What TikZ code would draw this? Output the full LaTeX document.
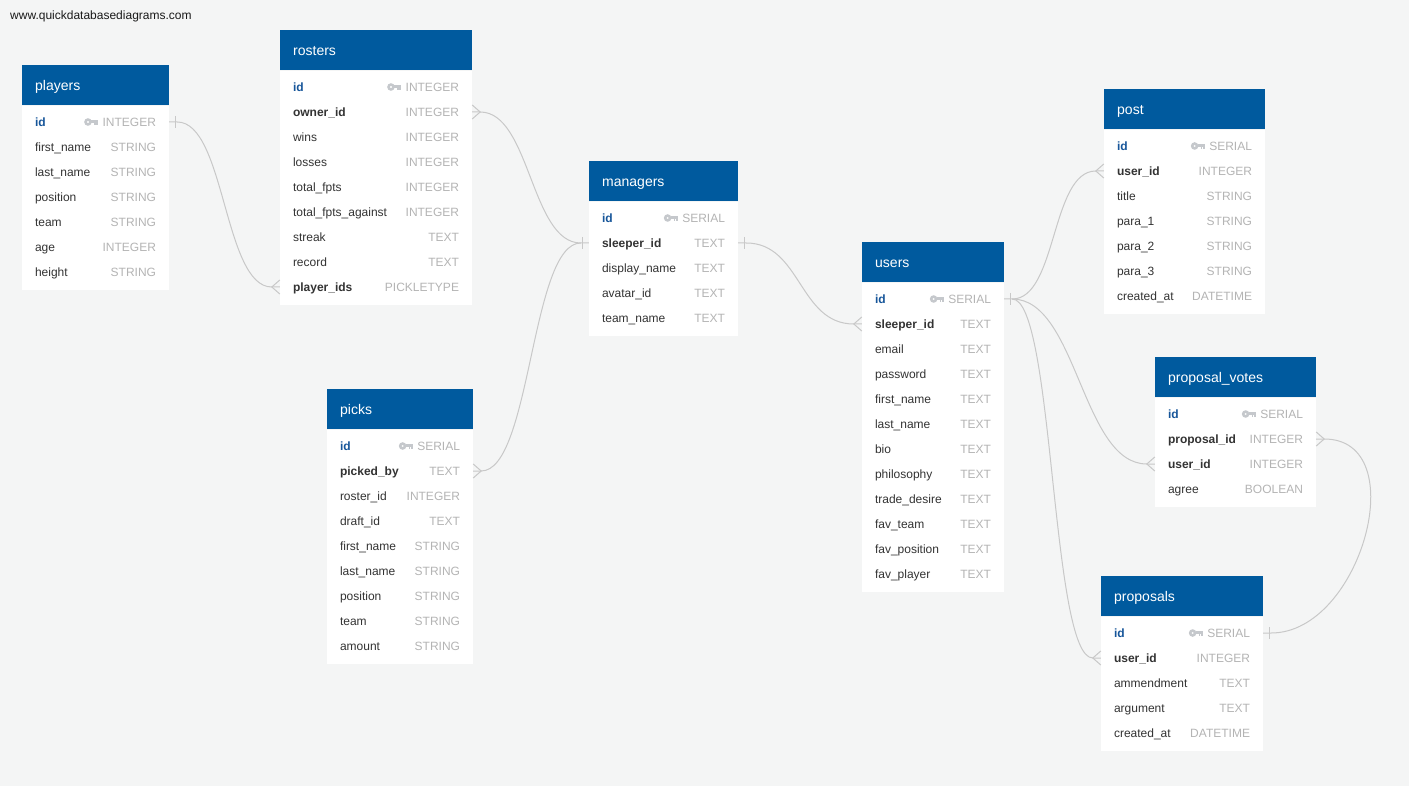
\documentclass[tikz,border=0pt]{standalone}
\usepackage{fontspec}
\setmainfont{Liberation Sans}
\usetikzlibrary{calc}
\definecolor{bg}{HTML}{F4F5F5}
\definecolor{hdr}{HTML}{005A9E}
\definecolor{pkc}{HTML}{17569A}
\definecolor{namec}{HTML}{333333}
\definecolor{typec}{HTML}{B4B4B4}
\definecolor{keyc}{HTML}{C5C8CC}
\definecolor{linec}{HTML}{C8C8C8}
\tikzset{
  hdrbox/.style={fill=hdr, draw=none, inner sep=0, minimum height=40pt},
  bodybox/.style={fill=white, draw=none, inner sep=0},
  rowbox/.style={draw=none, inner sep=0, minimum height=25pt},
  hdrtext/.style={text=white, font=\fontsize{14}{16}\selectfont, inner sep=0},
  rowno/.style={text=namec, font=\fontsize{12}{14}\selectfont, inner sep=0},
  rowfk/.style={rowno, font=\fontsize{12}{14}\selectfont\bfseries},
  rowpk/.style={rowno, text=pkc, font=\fontsize{12}{14}\selectfont\bfseries},
  typetext/.style={text=typec, font=\fontsize{12}{14}\selectfont, inner sep=0},
  conn/.style={draw=linec, line width=1pt},
}
\newcommand\etable[6]{%
  \def\curT{#1}\def\curX{#2}\def\curY{#3}\def\curW{#4}%
  \node[hdrbox, minimum width=#4pt, anchor=north west] (#1) at (#2,#3) {};
  \node[hdrtext, anchor=base west] (#1-title) at ($(#1.west)+(13,5)$) {#5};
  \node[bodybox, minimum width=#4pt, minimum height={25*#6+9}, anchor=north west] (#1-body) at (#1.south west) {};
}
\newcommand\erow[4]{%
  \node[rowbox, minimum width=\curW pt] (\curT-#1) at ({\curX+\curW/2},{\curY+32+25*#1}) {};
  \node[row#4, anchor=base west] (\curT-#1-n) at ($(\curT-#1.west)+(13,4.5)$) {#2};
  \node[typetext, anchor=base east] (\curT-#1-t) at ($(\curT-#1.east)+(-13,4.5)$) {#3};
}
\newcommand\ekey[1]{%
  \path let \p1=(\curT-#1-t.west), \p2=(\curT-#1) in coordinate (\curT-#1-kk) at (\x1,\y2);
  \begin{scope}[shift={(\curT-#1-kk)}]
    \fill[keyc, even odd rule] (-14.5,0) circle (3.8) (-14.5,0) circle (1.3);
    \fill[keyc] (-11,-1.7) rectangle (-4.5,1.3);
    \fill[keyc] (-8.2,1.3) rectangle (-6.7,3.3);
    \fill[keyc] (-6,1.3) rectangle (-4.5,2.8);
  \end{scope}}
\newcommand\barE[1]{\draw[conn] ($(#1.east)+(6,-6)$) -- ++(0,12);}
\newcommand\barW[1]{\draw[conn] ($(#1.west)+(-6,-6)$) -- ++(0,12);}
\newcommand\crowW[1]{\draw[conn] ($(#1.west)+(0,-7)$) -- ($(#1.west)+(-8,0)$) -- ($(#1.west)+(0,7)$);}
\newcommand\crowE[1]{\draw[conn] ($(#1.east)+(0,-7)$) -- ($(#1.east)+(8,0)$) -- ($(#1.east)+(0,7)$);}
\begin{document}
\begin{tikzpicture}[x=1pt,y=-1pt]
\useasboundingbox (0,0) rectangle (1409,786);
\fill[bg] (0,0) rectangle (1409,786);
\node[anchor=base west, inner sep=0, font=\fontsize{12}{14}\selectfont, text=black!90] (url) at (10,20) {www.quickdatabasediagrams.com};

% players
\etable{players}{22}{65}{147}{players}{7}
\erow{1}{id}{INTEGER}{pk}\ekey{1}
\erow{2}{first\_name}{STRING}{no}
\erow{3}{last\_name}{STRING}{no}
\erow{4}{position}{STRING}{no}
\erow{5}{team}{STRING}{no}
\erow{6}{age}{INTEGER}{no}
\erow{7}{height}{STRING}{no}

% rosters
\etable{rosters}{280}{30}{192}{rosters}{9}
\erow{1}{id}{INTEGER}{pk}\ekey{1}
\erow{2}{owner\_id}{INTEGER}{fk}
\erow{3}{wins}{INTEGER}{no}
\erow{4}{losses}{INTEGER}{no}
\erow{5}{total\_fpts}{INTEGER}{no}
\erow{6}{total\_fpts\_against}{INTEGER}{no}
\erow{7}{streak}{TEXT}{no}
\erow{8}{record}{TEXT}{no}
\erow{9}{player\_ids}{PICKLETYPE}{fk}

% managers
\etable{managers}{589}{161}{149}{managers}{5}
\erow{1}{id}{SERIAL}{pk}\ekey{1}
\erow{2}{sleeper\_id}{TEXT}{fk}
\erow{3}{display\_name}{TEXT}{no}
\erow{4}{avatar\_id}{TEXT}{no}
\erow{5}{team\_name}{TEXT}{no}

% picks
\etable{picks}{327}{389}{146}{picks}{9}
\erow{1}{id}{SERIAL}{pk}\ekey{1}
\erow{2}{picked\_by}{TEXT}{fk}
\erow{3}{roster\_id}{INTEGER}{no}
\erow{4}{draft\_id}{TEXT}{no}
\erow{5}{first\_name}{STRING}{no}
\erow{6}{last\_name}{STRING}{no}
\erow{7}{position}{STRING}{no}
\erow{8}{team}{STRING}{no}
\erow{9}{amount}{STRING}{no}

% users
\etable{users}{862}{242}{142}{users}{12}
\erow{1}{id}{SERIAL}{pk}\ekey{1}
\erow{2}{sleeper\_id}{TEXT}{fk}
\erow{3}{email}{TEXT}{no}
\erow{4}{password}{TEXT}{no}
\erow{5}{first\_name}{TEXT}{no}
\erow{6}{last\_name}{TEXT}{no}
\erow{7}{bio}{TEXT}{no}
\erow{8}{philosophy}{TEXT}{no}
\erow{9}{trade\_desire}{TEXT}{no}
\erow{10}{fav\_team}{TEXT}{no}
\erow{11}{fav\_position}{TEXT}{no}
\erow{12}{fav\_player}{TEXT}{no}

% post
\etable{post}{1104}{89}{161}{post}{7}
\erow{1}{id}{SERIAL}{pk}\ekey{1}
\erow{2}{user\_id}{INTEGER}{fk}
\erow{3}{title}{STRING}{no}
\erow{4}{para\_1}{STRING}{no}
\erow{5}{para\_2}{STRING}{no}
\erow{6}{para\_3}{STRING}{no}
\erow{7}{created\_at}{DATETIME}{no}

% proposal_votes
\etable{votes}{1155}{357}{161}{proposal\_votes}{4}
\erow{1}{id}{SERIAL}{pk}\ekey{1}
\erow{2}{proposal\_id}{INTEGER}{fk}
\erow{3}{user\_id}{INTEGER}{fk}
\erow{4}{agree}{BOOLEAN}{no}

% proposals
\etable{proposals}{1101}{576}{162}{proposals}{5}
\erow{1}{id}{SERIAL}{pk}\ekey{1}
\erow{2}{user\_id}{INTEGER}{fk}
\erow{3}{ammendment}{TEXT}{no}
\erow{4}{argument}{TEXT}{no}
\erow{5}{created\_at}{DATETIME}{no}

% connectors
\draw[conn] (players-1.east) -- ++(8,0) .. controls +(48,0) and +(-48,0) .. ($(rosters-9.west)+(-8,0)$) -- (rosters-9.west);
\barE{players-1}\crowW{rosters-9}

\draw[conn] (rosters-2.east) -- ++(8,0) .. controls +(50,0) and +(-50,0) .. ($(managers-2.west)+(-8,0)$) -- (managers-2.west);
\crowE{rosters-2}\barW{managers-2}

\draw[conn] (picks-2.east) -- ++(8,0) .. controls +(50,0) and +(-50,0) .. ($(managers-2.west)+(-8,0)$);
\crowE{picks-2}

\draw[conn] (managers-2.east) -- ++(8,0) .. controls +(55,0) and +(-55,0) .. ($(users-2.west)+(-8,0)$) -- (users-2.west);
\barE{managers-2}\crowW{users-2}

\draw[conn] (users-1.east) -- ++(8,0) .. controls +(45,0) and +(-45,0) .. ($(post-2.west)+(-8,0)$) -- (post-2.west);
\draw[conn] ($(users-1.east)+(8,0)$) .. controls +(65,0) and +(-65,0) .. ($(votes-3.west)+(-8,0)$) -- (votes-3.west);
\draw[conn] ($(users-1.east)+(8,0)$) .. controls +(42,0) and +(-42,0) .. ($(proposals-2.west)+(-8,0)$) -- (proposals-2.west);
\barE{users-1}\crowW{post-2}\crowW{votes-3}\crowW{proposals-2}

\draw[conn] (proposals-1.east) -- ++(8,0) .. controls +(90,0) and +(90,0) .. ($(votes-2.east)+(8,0)$) -- (votes-2.east);
\barE{proposals-1}\crowE{votes-2}
\end{tikzpicture}
\end{document}
